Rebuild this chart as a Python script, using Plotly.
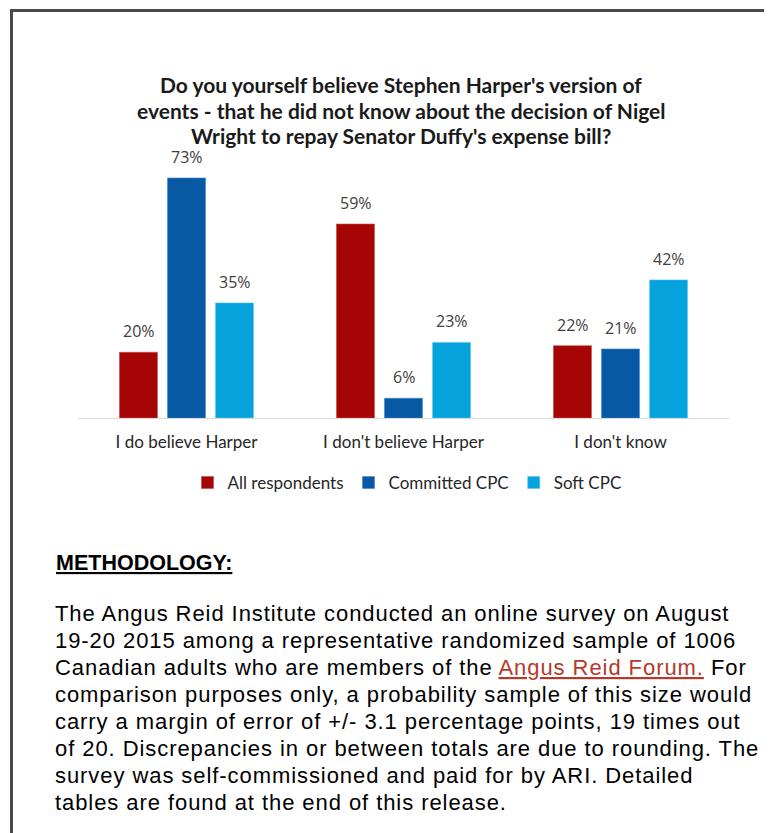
import plotly.graph_objects as go

# ---- data ----
categories = ["I do believe Harper", "I don't believe Harper", "I don't know"]
series_names = ["All respondents", "Committed CPC", "Soft CPC"]
all_respondents = [20, 59, 22]
committed_cpc = [73, 6, 21]
soft_cpc = [35, 23, 42]
title_lines = [
    "Do you yourself believe Stephen Harper's version of",
    "events - that he did not know about the decision of Nigel",
    "Wright to repay Senator Duffy's expense bill?",
]
method_heading = "METHODOLOGY:"
method_lines = [
    "The Angus Reid Institute conducted an online survey on August",
    "19-20 2015 among a representative randomized sample of 1006",
    "Canadian adults who are members of the <span style=\"color:#b5392a;text-decoration:underline\">Angus Reid Forum.</span> For",
    "comparison purposes only, a probability sample of this size would",
    "carry a margin of error of +/- 3.1 percentage points, 19 times out",
    "of 20. Discrepancies in or between totals are due to rounding. The",
    "survey was self-commissioned and paid for by ARI. Detailed",
    "tables are found at the end of this release.",
]

# ---- layout geometry (pixels, page offset by body margin) ----
OFF = 8
FW, FH = 772 - OFF, 833 - OFF
L, R, T, B = 70, 43, 147, 415
PW, PH = FW - L - R, FH - T - B


def px(x):
    # x given in page (reference screenshot) pixels
    return (x - OFF - L) / PW


def py(y):
    return (FH - B - (y - OFF)) / PH


colors = ["#a50505", "#0859a3", "#05a2dc"]
line_colors = ["#d04040", "#3a84c8", "#50c8f0"]
values = [all_respondents, committed_cpc, soft_cpc]

fig = go.Figure()
for name, vals, c, lc in zip(series_names, values, colors, line_colors):
    fig.add_trace(go.Bar(
        x=categories, y=vals, name=name,
        marker=dict(color=c, line=dict(color=lc, width=0.6)),
        hoverinfo="skip",
    ))

annotations = []
# value labels
offsets = [-48, 0, 48]
for vals, off in zip(values, offsets):
    for cat, v in zip(categories, vals):
        annotations.append(dict(
            x=cat, y=v, xref="x", yref="y", text=f"{v}%", showarrow=False,
            xshift=off, yshift=8, yanchor="bottom", xanchor="center",
            font=dict(family="Open Sans", size=16, color="#404040"),
        ))

# title lines
for i, t in enumerate(title_lines):
    annotations.append(dict(
        x=px(401), y=py(85 + i * 25.5), xref="paper", yref="paper",
        text=f"<b>{t}</b>", showarrow=False, xanchor="center", yanchor="middle",
        font=dict(family="Lato", size=21, color="#1a1a1a"),
    ))

# methodology
annotations.append(dict(
    x=px(54), y=py(563), xref="paper", yref="paper",
    text=f"<b>{method_heading}</b>", showarrow=False, xanchor="left", yanchor="middle",
    font=dict(family="Liberation Sans", size=21.5, color="#000000", lineposition="under"),
))
for i, t in enumerate(method_lines):
    annotations.append(dict(
        x=px(53), y=py(613 + i * 27), xref="paper", yref="paper",
        text=f"<span style=\"letter-spacing:0.93px\">{t}</span>", showarrow=False,
        xanchor="left", yanchor="middle", align="left",
        font=dict(family="Liberation Sans", size=22, color="#000000"),
    ))

shapes = [
    dict(type="line", xref="paper", yref="paper", x0=px(10), x1=px(780),
         y0=py(10.5), y1=py(10.5), line=dict(color="#4a4a4a", width=3)),
    dict(type="line", xref="paper", yref="paper", x0=px(11.5), x1=px(11.5),
         y0=py(9), y1=py(845), line=dict(color="#4a4a4a", width=3)),
]

fig.update_layout(
    width=FW, height=FH,
    margin=dict(l=L, r=R, t=T, b=B, pad=0),
    paper_bgcolor="white", plot_bgcolor="white",
    barmode="group", bargap=0.336, bargroupgap=0.21,
    showlegend=True,
    legend=dict(
        orientation="h", x=px(407), xanchor="center", y=py(483), yanchor="middle",
        font=dict(family="Lato", size=17, color="#262626"),
        itemwidth=30, traceorder="normal",
    ),
    xaxis=dict(
        showline=True, linecolor="#d9d9d9", linewidth=1, ticks="",
        tickfont=dict(family="Lato", size=17, color="#262626"),
        ticklabelstandoff=9, showgrid=False, zeroline=False,
    ),
    yaxis=dict(range=[0, 80], visible=False, showgrid=False, zeroline=False),
    annotations=annotations, shapes=shapes,
)

fig.write_html("out.html")
